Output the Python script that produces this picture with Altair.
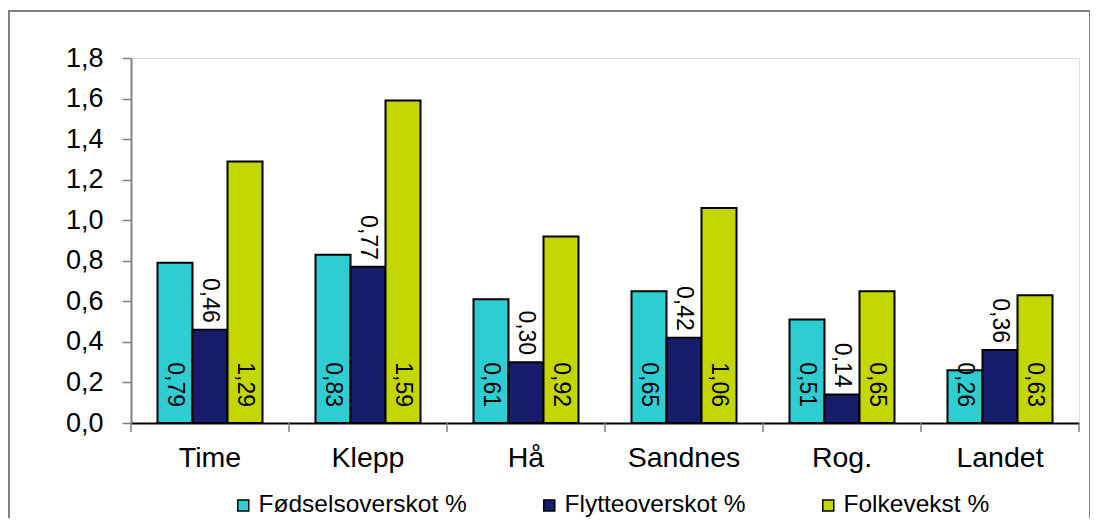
import altair as alt
import pandas as pd

categories = ["Time", "Klepp", "Hå", "Sandnes", "Rog.", "Landet"]
series = ["Fødselsoverskot %", "Flytteoverskot %", "Folkevekst %"]
fodsel = [0.79, 0.83, 0.61, 0.65, 0.51, 0.26]
flytte = [0.46, 0.77, 0.30, 0.42, 0.14, 0.36]
folkevekst = [1.29, 1.59, 0.92, 1.06, 0.65, 0.63]
colors = ["#2ECDD2", "#181C6C", "#C4D600"]
y_ticks = [0.0, 0.2, 0.4, 0.6, 0.8, 1.0, 1.2, 1.4, 1.6, 1.8]

rows = []
for i, c in enumerate(categories):
    for s, vals in zip(series, [fodsel, flytte, folkevekst]):
        rows.append({"kommune": c, "serie": s, "verdi": vals[i],
                     "label": f"{vals[i]:.2f}".replace(".", ",")})
df = pd.DataFrame(rows)
cat_df = pd.DataFrame({"kommune": categories})
one = pd.DataFrame({"a": [0]})

W, H = 948, 365
FONT = "Liberation Sans"

x_axis = alt.Axis(title=None, ticks=False, tickSize=0, labelFontSize=28.5, labelPadding=20,
                  domainColor="black", domainWidth=2, labelAngle=0, labelColor="black",
                  labelFont=FONT)
x = alt.X("kommune:N", sort=categories,
          scale=alt.Scale(paddingInner=0, paddingOuter=0), axis=x_axis)
xo = alt.XOffset("serie:N", sort=series,
                 scale=alt.Scale(paddingInner=0, paddingOuter=0.757))
y_axis = alt.Axis(title=None, values=y_ticks,
                  labelExpr="replace(format(datum.value, '.1f'), '.', ',')",
                  domainColor="#808080", domainWidth=2, tickColor="#808080",
                  tickSize=9, tickWidth=1.5, labelFontSize=27, labelPadding=19,
                  grid=False, labelColor="black", labelFont=FONT)
y_scale = alt.Scale(domain=[0, 1.8], nice=False, zero=True)

color = alt.Color("serie:N", sort=series,
                  scale=alt.Scale(domain=series, range=colors),
                  legend=alt.Legend(title=None, orient="none", legendX=100, legendY=435,
                                    direction="horizontal", columns=3, padding=0,
                                    symbolType="square", symbolSize=121,
                                    symbolStrokeColor="black", symbolStrokeWidth=1.5,
                                    symbolOpacity=1, labelFontSize=24.5, labelFont=FONT,
                                    labelColor="black", labelOffset=3, labelLimit=400,
                                    columnPadding=70))

bars = alt.Chart(df).mark_bar(stroke="black", strokeWidth=2, opacity=1).encode(
    x=x, xOffset=xo, y=alt.Y("verdi:Q", scale=y_scale, axis=y_axis), color=color
)

base_labels = alt.Chart(df).transform_filter(
    alt.datum.serie != "Flytteoverskot %"
).mark_text(angle=90, align="right", baseline="middle", dx=-16, fontSize=23,
            font=FONT, color="black").encode(
    x=x, xOffset=xo, y=alt.datum(0), text="label:N"
)

top_labels = alt.Chart(df).transform_filter(
    alt.datum.serie == "Flytteoverskot %"
).mark_text(angle=90, align="right", baseline="middle", dx=-7, fontSize=23,
            font=FONT, color="black").encode(
    x=x, xOffset=xo, y=alt.Y("verdi:Q"), text="label:N"
)

ticks = alt.Chart(cat_df).mark_rule(color="#808080", strokeWidth=1.5).encode(
    x=alt.X("kommune:N", sort=categories, bandPosition=0),
    y=alt.value(H), y2=alt.value(H + 9)
)
last_tick = alt.Chart(one).mark_rule(color="#808080", strokeWidth=1.5).encode(
    x=alt.value(W), y=alt.value(H), y2=alt.value(H + 9)
)

frame = alt.Chart(one).mark_rect(fillOpacity=0, stroke="#808080", strokeWidth=2).encode(
    x=alt.value(-122), x2=alt.value(959), y=alt.value(-47), y2=alt.value(600)
)

chart = alt.layer(frame, bars, base_labels, top_labels, ticks, last_tick).properties(
    width=W, height=H,
    autosize=alt.AutoSizeParams(type="none"),
    padding={"left": 123, "top": 50, "right": 11, "bottom": 95},
    background="white",
).configure_view(stroke=None).configure(font=FONT)

chart.save("out.html", embed_options={"renderer": "svg", "actions": False})
